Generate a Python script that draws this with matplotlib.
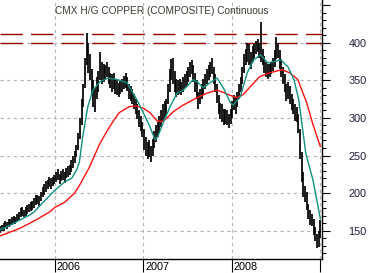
import matplotlib
matplotlib.use("Agg")
import matplotlib.pyplot as plt
import matplotlib.dates as mdates
import matplotlib.transforms as mtransforms
from matplotlib.ticker import MultipleLocator, FuncFormatter
import pandas as pd
import numpy as np

plt.rcParams['font.family'] = ['Liberation Sans', 'DejaVu Sans']

title = "CMX H/G COPPER (COMPOSITE) Continuous"
start_week = "2005-05-13"

# weekly low / high ranges (cents per pound)
lows_2005 = [145, 147, 149, 150, 153, 152, 155, 156, 158, 160, 159, 162,
             164, 168, 170, 168, 170, 172, 175, 176, 178, 180, 184, 186, 183,
             190, 195, 198, 202, 205, 208, 206, 210, 212]
highs_2005 = [153, 156, 158, 160, 163, 162, 165, 166, 168, 170, 168, 172,
              175, 180, 182, 178, 182, 184, 186, 188, 190, 193, 197, 198, 196,
              202, 208, 212, 216, 218, 222, 220, 222, 224]
lows_2006 = [215, 218, 212, 216, 218, 214, 220, 222, 224, 228, 234, 240, 248,
             258, 272, 290, 315, 340, 370, 360, 350, 330, 315, 308, 325, 335,
             350, 345, 348, 350, 355, 345, 340, 335, 338, 332, 330, 328, 332,
             335, 338, 340, 336, 325, 322, 318, 312, 305, 298, 288, 282, 275]
highs_2006 = [228, 232, 226, 230, 232, 228, 233, 236, 238, 244, 250, 256, 264,
              280, 300, 325, 345, 380, 413, 400, 385, 365, 350, 340, 355, 362,
              388, 375, 372, 370, 375, 368, 360, 358, 360, 352, 350, 346, 350,
              352, 356, 360, 355, 345, 342, 338, 332, 325, 318, 310, 302, 295]
lows_2007 = [258, 250, 245, 248, 242, 250, 260, 268, 275, 280, 288, 295, 300,
             305, 318, 335, 350, 345, 335, 328, 330, 332, 330, 335, 340, 342,
             348, 355, 358, 348, 335, 325, 312, 318, 325, 332, 338, 345, 350,
             355, 358, 345, 335, 320, 305, 298, 295, 290, 292, 290, 286, 292]
highs_2007 = [285, 275, 268, 270, 262, 272, 282, 290, 295, 302, 310, 318, 322,
              325, 345, 365, 378, 380, 362, 352, 350, 352, 348, 355, 358, 362,
              368, 375, 377, 370, 360, 350, 335, 338, 345, 352, 358, 365, 370,
              375, 380, 368, 358, 345, 330, 320, 318, 312, 312, 310, 305, 312]
lows_2008 = [300, 310, 305, 315, 325, 335, 345, 360, 370, 375, 370, 365, 375,
             380, 385, 388, 380, 375, 370, 360, 355, 352, 355, 358, 362, 368,
             378, 380, 365, 355, 345, 335, 322, 325, 318, 310, 305, 296, 295,
             280, 245, 215, 195, 188, 178, 165, 158, 156, 144, 136, 127, 128,
             140]
highs_2008 = [322, 330, 328, 335, 345, 355, 368, 385, 392, 400, 398, 388, 395,
              398, 402, 405, 400, 428, 392, 382, 375, 372, 372, 375, 380, 390,
              408, 400, 390, 378, 368, 358, 345, 348, 342, 332, 325, 318, 315,
              305, 285, 255, 228, 210, 202, 185, 178, 172, 165, 155, 146, 150,
              164]

# moving averages
teal_dates = ['2005-05-18', '2005-06-28', '2005-08-08', '2005-09-19', '2005-10-07',
              '2005-11-11', '2006-01-01', '2006-02-11', '2006-03-12', '2006-04-01',
              '2006-04-12', '2006-04-26', '2006-05-17', '2006-06-07', '2006-07-06',
              '2006-08-08', '2006-09-15', '2006-10-26', '2006-12-06', '2007-01-01',
              '2007-01-29', '2007-02-19', '2007-03-02', '2007-03-24', '2007-04-22',
              '2007-05-21', '2007-06-16', '2007-07-27', '2007-08-16', '2007-09-06',
              '2007-10-05', '2007-11-02', '2007-11-28', '2007-12-28', '2008-01-08',
              '2008-02-06', '2008-03-06', '2008-04-01', '2008-04-30', '2008-05-30',
              '2008-06-23', '2008-07-23', '2008-08-21', '2008-09-15', '2008-10-05',
              '2008-11-03', '2008-12-03', '2009-01-02']
teal_vals = [151, 157, 164, 171, 175, 187, 204, 215, 220, 231, 241, 275, 315,
             337, 348, 353, 351, 347, 324, 307, 288, 271, 275, 293, 315, 333,
             337, 351, 347, 340, 347, 353, 340, 320, 317, 328, 360, 377, 384,
             373, 375, 377, 368, 351, 324, 253, 217, 166]
red_dates = ['2005-05-18', '2005-06-28', '2005-08-08', '2005-09-19', '2005-10-29',
             '2005-12-10', '2006-01-01', '2006-02-11', '2006-03-23', '2006-04-12',
             '2006-05-23', '2006-07-03', '2006-08-05', '2006-09-04', '2006-09-24',
             '2006-11-04', '2006-12-03', '2007-01-01', '2007-01-29', '2007-02-27',
             '2007-03-20', '2007-04-10', '2007-05-04', '2007-06-15', '2007-08-12',
             '2007-09-22', '2007-11-02', '2007-11-27', '2007-12-26', '2008-01-24',
             '2008-02-18', '2008-03-17', '2008-04-27', '2008-06-07', '2008-07-27',
             '2008-08-29', '2008-10-01', '2008-11-07', '2008-12-01', '2009-01-02']
red_vals = [143, 148, 153, 160, 167, 175, 181, 188, 200, 210, 234, 264, 283,
            298, 307, 315, 316, 313, 307, 296, 295, 300, 308, 317, 327, 333,
            337, 334, 330, 327, 331, 341, 355, 360, 364, 360, 351, 320, 293, 262]

resistance_levels = [400, 412]
year_ticks = ['2006-01-01', '2007-01-01', '2008-01-01', '2009-01-01']
year_labels = ['2006', '2007', '2008', '']
price_ticks = [150, 200, 250, 300, 350, 400]

lows = lows_2005 + lows_2006 + lows_2007 + lows_2008
highs = highs_2005 + highs_2006 + highs_2007 + highs_2008
weeks = pd.date_range(start_week, periods=len(lows), freq='W-FRI')

W, H = 371, 273
fig = plt.figure(figsize=(W / 100, H / 100), dpi=100)
ax = fig.add_axes([0, 14 / H, 322 / W, 259 / H])

x0 = pd.Timestamp('2006-01-01') - pd.Timedelta(days=227)
x1 = pd.Timestamp('2009-01-09')
ax.set_xlim(x0, x1)
ax.set_ylim(112.4, 456.8)

# grid
for p in price_ticks:
    ax.axhline(p, color='#b4b4b4', lw=0.8, ls=(0, (3, 3)), zorder=1)
for d in year_ticks:
    ax.axvline(pd.Timestamp(d), color='#b4b4b4', lw=0.8, ls=(0, (3, 3)), zorder=1)

for lvl in resistance_levels:
    ax.axhline(lvl, color='#990000', lw=1.0, ls=(0, (16, 6)), zorder=2)

# price bars
ax.vlines(weeks, lows, highs, color='black', lw=1.25, zorder=3)

ax.plot(pd.to_datetime(red_dates), red_vals, color='#ff1010', lw=1.0, zorder=4)
ax.plot(pd.to_datetime(teal_dates), teal_vals, color='#109080', lw=1.0, zorder=5)

# spines
for s in ['left', 'top']:
    ax.spines[s].set_visible(False)
ax.spines['right'].set_linewidth(1.0)
ax.spines['bottom'].set_linewidth(1.0)

# y axis on right
ax.yaxis.tick_right()
ax.yaxis.set_major_locator(MultipleLocator(50))
ax.yaxis.set_minor_locator(MultipleLocator(10))
ax.yaxis.set_major_formatter(FuncFormatter(lambda v, p: f"{int(v)}" if int(v) in price_ticks else ""))
ax.tick_params(axis='y', which='major', direction='out', length=6, width=0.8,
               pad=13, labelsize=7.8, labelcolor='#1a1a3a', colors='black')
ax.tick_params(axis='y', which='minor', direction='out', length=3, width=0.8)
for lbl in ax.get_yticklabels():
    lbl.set_color('#1a1a3a')

# x axis
ax.set_xticks(pd.to_datetime(year_ticks))
ax.set_xticklabels(year_labels)
ax.tick_params(axis='x', which='major', direction='out', length=9, width=0.8,
               pad=-7, labelsize=7.8)
offset = mtransforms.ScaledTranslation(2 / 100, 0, fig.dpi_scale_trans)
for lbl in ax.get_xticklabels():
    lbl.set_horizontalalignment('left')
    lbl.set_transform(lbl.get_transform() + offset)

ax.text(55 / 322, 1 - 10.5 / 259, title, transform=ax.transAxes,
        fontsize=7.25, color='#3a3a30', ha='left', va='center', zorder=6)

fig.savefig('out.png', dpi=100)
